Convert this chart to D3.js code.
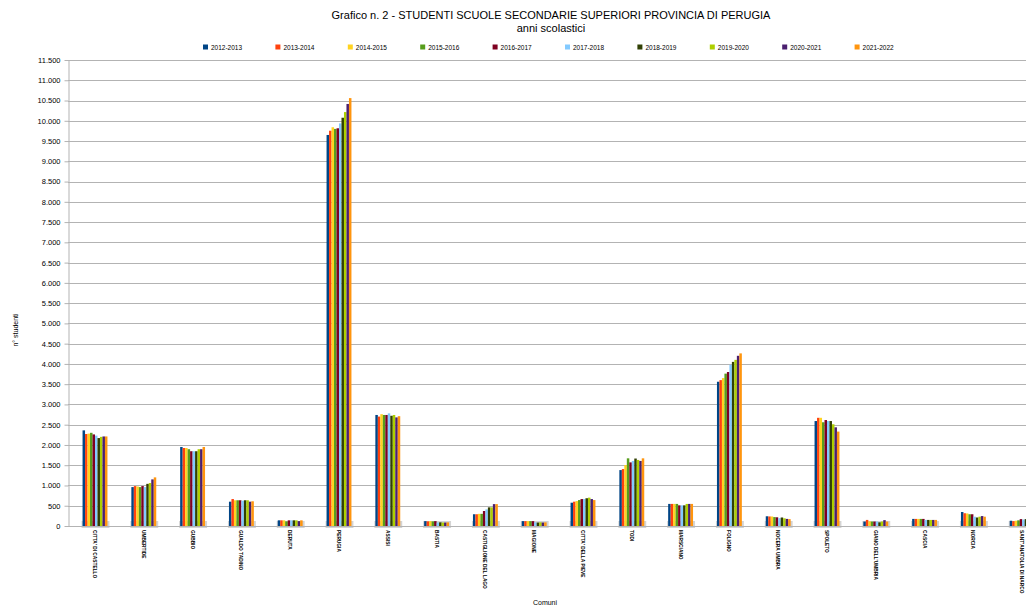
<!DOCTYPE html>
<html>
<head>
<meta charset="utf-8">
<script src="https://cdn.jsdelivr.net/npm/d3@7"></script>
<style>
  body { margin: 0; background: #fff; }
  text { font-family: "Liberation Sans", Arial, sans-serif; }
</style>
</head>
<body>
<div id="chart"></div>
<script>
// Categories (comuni) and school years
const comuni = ["CITTA' DI CASTELLO", "UMBERTIDE", "GUBBIO", "GUALDO TADINO", "DERUTA", "PERUGIA",
  "ASSISI", "BASTIA", "CASTIGLIONE DEL LAGO", "MAGIONE", "CITTA' DELLA PIEVE", "TODI", "MARSCIANO",
  "FOLIGNO", "NOCERA UMBRA", "SPOLETO", "GIANO DELL'UMBRIA", "CASCIA", "NORCIA", "SANT'ANATOLIA DI NARCO"];
const anni = ["2012-2013", "2013-2014", "2014-2015", "2015-2016", "2016-2017",
  "2017-2018", "2018-2019", "2019-2020", "2020-2021", "2021-2022"];
const colori = ["#004586", "#ff420e", "#ffd320", "#579d1c", "#7e0021",
  "#83caff", "#314004", "#aecf00", "#4b1f6f", "#ff950e"];

// Students per comune, one array per comune (values in school-year order)
const cittaDiCastello = [2360, 2270, 2280, 2300, 2260, 2230, 2170, 2200, 2210, 2210];
const umbertide = [960, 985, 975, 960, 985, 960, 1040, 1060, 1150, 1200];
const gubbio = [1950, 1925, 1925, 1895, 1845, 1845, 1845, 1895, 1895, 1950];
const gualdoTadino = [600, 665, 635, 635, 635, 625, 635, 635, 600, 610];
const deruta = [140, 140, 140, 115, 140, 140, 140, 140, 120, 140];
const perugia = [9650, 9755, 9840, 9800, 9815, 9935, 10075, 10215, 10415, 10560];
const assisi = [2740, 2700, 2760, 2740, 2740, 2780, 2720, 2740, 2680, 2710];
const bastia = [120, 115, 120, 115, 120, 85, 90, 85, 85, 90];
const castiglione = [290, 290, 300, 300, 370, 410, 460, 460, 540, 540];
const magione = [120, 120, 120, 120, 120, 90, 85, 90, 85, 90];
const cittaDellaPieve = [575, 600, 615, 640, 665, 665, 685, 700, 665, 640];
const todi = [1380, 1405, 1505, 1670, 1570, 1605, 1665, 1630, 1605, 1670];
const marsciano = [545, 545, 545, 545, 510, 510, 510, 545, 545, 545];
const foligno = [3560, 3600, 3650, 3760, 3800, 3980, 4050, 4100, 4200, 4260];
const noceraUmbra = [240, 235, 235, 220, 215, 195, 210, 190, 175, 170];
const spoleto = [2590, 2670, 2670, 2560, 2615, 2590, 2590, 2510, 2435, 2330];
const gianoDellUmbria = [110, 150, 115, 110, 110, 110, 90, 110, 145, 110];
const cascia = [175, 175, 175, 175, 175, 150, 150, 150, 150, 150];
const norcia = [345, 315, 310, 290, 290, 230, 210, 230, 245, 230];
const santAnatolia = [130, 120, 130, 140, 170, 160, 170, 175, 180, 185];

const valori = [cittaDiCastello, umbertide, gubbio, gualdoTadino, deruta, perugia, assisi, bastia,
  castiglione, magione, cittaDellaPieve, todi, marsciano, foligno, noceraUmbra, spoleto,
  gianoDellUmbria, cascia, norcia, santAnatolia];

const yTicks = d3.range(0, 11501, 500);

// Dimensions
const width = 1026;
const height = 607;
const plot = { left: 70.6, right: 1046.6, top: 60, bottom: 526 };

const svg = d3.select("#chart")
  .append("svg")
  .attr("width", width)
  .attr("height", height);

// Scales
const xScale = d3.scaleBand()
  .domain(comuni)
  .range([plot.left, plot.right])
  .paddingInner(0.49)
  .paddingOuter(0.245);

const xInner = d3.scaleBand()
  .domain(anni)
  .range([0, xScale.bandwidth()]);

const yScale = d3.scaleLinear()
  .domain([0, 11500])
  .range([plot.bottom, plot.top]);

const fmt = d3.formatLocale({ decimal: ",", thousands: ".", grouping: [3], currency: ["", "€"] }).format(",d");

// Grid lines
svg.append("g")
  .selectAll("line")
  .data(yTicks)
  .join("line")
  .attr("x1", 68)
  .attr("x2", width)
  .attr("y1", d => Math.round(yScale(d)) + 0.5)
  .attr("y2", d => Math.round(yScale(d)) + 0.5)
  .attr("stroke", "#b3b3b3")
  .attr("stroke-width", 1);

// Y axis
const yAxis = svg.append("g")
  .attr("transform", "translate(68.5,0)")
  .call(d3.axisLeft(yScale).tickValues(yTicks).tickFormat(fmt).tickSize(4).tickSizeOuter(0));
yAxis.select(".domain").attr("stroke", "#b3b3b3");
yAxis.selectAll(".tick line").attr("stroke", "#b3b3b3");
yAxis.selectAll(".tick text")
  .attr("font-size", 7.5)
  .attr("x", -8)
  .attr("fill", "#000");

// Group shadows at the base
svg.append("g")
  .selectAll("rect")
  .data(comuni)
  .join("rect")
  .attr("x", d => xScale(d) - 1)
  .attr("y", plot.bottom - 5)
  .attr("width", xScale.bandwidth() + 3)
  .attr("height", 7)
  .attr("fill", "#d4d4d4");

// Bars
const groups = svg.append("g")
  .selectAll("g")
  .data(comuni)
  .join("g")
  .attr("transform", d => `translate(${xScale(d)},0)`);

groups.selectAll("rect")
  .data((d, i) => valori[i].map((v, j) => ({ anno: anni[j], v, c: colori[j] })))
  .join("rect")
  .attr("x", d => xInner(d.anno))
  .attr("y", d => yScale(d.v))
  .attr("width", xInner.bandwidth())
  .attr("height", d => plot.bottom - yScale(d.v))
  .attr("fill", d => d.c);

// X axis baseline
svg.append("line")
  .attr("x1", 68).attr("x2", width)
  .attr("y1", plot.bottom + 0.5).attr("y2", plot.bottom + 0.5)
  .attr("stroke", "#b3b3b3");

// X labels (rotated)
svg.append("g")
  .selectAll("text")
  .data(comuni)
  .join("text")
  .attr("transform", d => `translate(${xScale(d) + xScale.bandwidth() / 2 - 2},530) rotate(90)`)
  .attr("font-size", 4.8)
  .attr("font-weight", "bold")
  .attr("fill", "#000")
  .text(d => d);

// Title
svg.append("text")
  .attr("x", 551).attr("y", 19)
  .attr("text-anchor", "middle")
  .attr("font-size", 11)
  .text("Grafico n. 2 - STUDENTI SCUOLE SECONDARIE SUPERIORI PROVINCIA DI PERUGIA");
svg.append("text")
  .attr("x", 551).attr("y", 32)
  .attr("text-anchor", "middle")
  .attr("font-size", 11)
  .text("anni scolastici");

// Legend
const legend = svg.append("g")
  .selectAll("g")
  .data(anni)
  .join("g")
  .attr("transform", (d, i) => `translate(${203 + i * 72.4},47)`);
legend.append("rect")
  .attr("x", 0).attr("y", -2.5)
  .attr("width", 5).attr("height", 5)
  .attr("fill", (d, i) => colori[i]);
legend.append("text")
  .attr("x", 8).attr("y", 2.5)
  .attr("font-size", 6.5)
  .text(d => d);

// Axis titles
svg.append("text")
  .attr("transform", "translate(18,330) rotate(-90)")
  .attr("text-anchor", "middle")
  .attr("font-size", 7)
  .text("n° studenti");
svg.append("text")
  .attr("x", 545).attr("y", 605)
  .attr("text-anchor", "middle")
  .attr("font-size", 7)
  .text("Comuni");
</script>
</body>
</html>
